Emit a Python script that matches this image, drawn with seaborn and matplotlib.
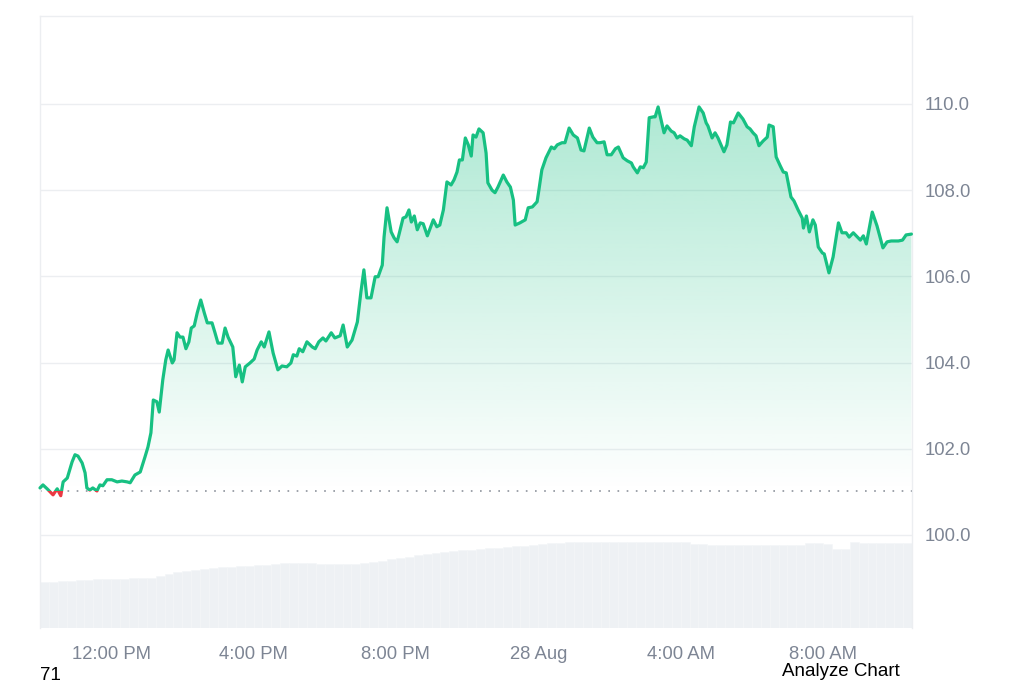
import numpy as np
import pandas as pd
import seaborn as sns
import matplotlib.pyplot as plt
from matplotlib.colors import to_rgb
from matplotlib.patches import Rectangle

# price, minutes after 10:00 AM (27 Aug)
minutes = [0, 5, 12, 22, 29, 35, 39, 46, 54, 59, 64, 71, 76, 79, 84, 89, 96, 101, 106, 113,
           121, 130, 138, 147, 152, 160, 169, 177, 182, 187, 191, 197, 201, 207, 212, 216, 223, 226, 231, 236,
           241, 246, 251, 255, 260, 265, 271, 277, 282, 290, 295, 300, 307, 312, 317, 325, 330, 336, 341, 346,
           354, 361, 366, 373, 378, 386, 393, 401, 408, 416, 423, 427, 433, 437, 443, 450, 459, 464, 470, 477,
           482, 491, 497, 506, 511, 518, 526, 535, 541, 546, 551, 558, 565, 570, 577, 580, 585, 592, 597, 602,
           605, 612, 617, 622, 626, 631, 636, 641, 646, 653, 663, 669, 674, 680, 686, 693, 698, 703, 707, 712,
           717, 722, 727, 730, 735, 740, 747, 752, 755, 762, 767, 772, 781, 787, 793, 798, 801, 809, 818, 823,
           830, 838, 841, 846, 853, 862, 867, 872, 880, 885, 892, 899, 906, 912, 917, 926, 932, 939, 944, 951,
           956, 963, 970, 975, 983, 990, 997, 1000, 1007, 1012, 1017, 1022, 1027, 1034, 1037, 1042, 1047, 1052, 1057, 1064,
           1069, 1074, 1079, 1086, 1091, 1098, 1103, 1111, 1118, 1123, 1126, 1133, 1138, 1143, 1153, 1158, 1164, 1169, 1177, 1185,
           1192, 1197, 1202, 1207, 1212, 1219, 1226, 1229, 1236, 1241, 1248, 1253, 1258, 1266, 1271, 1278, 1285, 1287, 1292, 1297,
           1303, 1307, 1312, 1319, 1322, 1330, 1337, 1346, 1352, 1359, 1364, 1371, 1378, 1383, 1388, 1393, 1403, 1411, 1416, 1421,
           1428, 1435, 1440, 1447, 1454, 1460, 1469]
price = [101.09, 101.16, 101.07, 100.93, 101.07, 100.91, 101.23, 101.32, 101.69, 101.86,
         101.83, 101.67, 101.44, 101.09, 101.04, 101.09, 101.02, 101.16, 101.14, 101.28,
         101.28, 101.23, 101.25, 101.23, 101.21, 101.39, 101.46, 101.81, 102.04, 102.37,
         103.13, 103.09, 102.85, 103.60, 104.06, 104.29, 103.99, 104.06, 104.69, 104.59,
         104.59, 104.32, 104.48, 104.80, 104.85, 105.15, 105.45, 105.15, 104.92, 104.92,
         104.69, 104.45, 104.45, 104.80, 104.59, 104.36, 103.67, 103.94, 103.55, 103.90,
         103.99, 104.08, 104.29, 104.48, 104.36, 104.71, 104.22, 103.83, 103.92, 103.90,
         103.99, 104.18, 104.15, 104.32, 104.25, 104.48, 104.36, 104.32, 104.48, 104.57,
         104.50, 104.69, 104.57, 104.62, 104.87, 104.36, 104.52, 104.94, 105.64, 106.15,
         105.50, 105.50, 105.99, 105.99, 106.26, 106.91, 107.59, 107.03, 106.89, 106.80,
         106.96, 107.35, 107.38, 107.54, 107.26, 107.40, 107.08, 107.24, 107.22, 106.94,
         107.31, 107.15, 107.19, 107.54, 108.19, 108.12, 108.24, 108.42, 108.70, 108.70,
         109.21, 109.05, 108.79, 109.28, 109.23, 109.42, 109.33, 108.86, 108.17, 108.00,
         107.94, 108.07, 108.35, 108.19, 108.07, 107.77, 107.19, 107.24, 107.31, 107.59,
         107.61, 107.73, 108.00, 108.47, 108.75, 109.00, 108.96, 109.05, 109.10, 109.10,
         109.44, 109.28, 109.21, 108.93, 108.91, 109.44, 109.23, 109.10, 109.10, 109.12,
         108.82, 108.82, 108.96, 109.00, 108.75, 108.68, 108.63, 108.54, 108.40, 108.54,
         108.52, 108.65, 109.68, 109.70, 109.70, 109.93, 109.63, 109.33, 109.49, 109.37,
         109.33, 109.21, 109.26, 109.19, 109.16, 109.03, 109.47, 109.93, 109.79, 109.56,
         109.49, 109.21, 109.33, 109.21, 108.89, 109.05, 109.58, 109.56, 109.79, 109.65,
         109.47, 109.42, 109.33, 109.26, 109.03, 109.14, 109.23, 109.51, 109.47, 108.77,
         108.56, 108.42, 108.40, 107.84, 107.75, 107.54, 107.35, 107.12, 107.40, 107.03,
         107.31, 107.19, 106.68, 106.54, 106.52, 106.08, 106.45, 107.24, 107.01, 107.01,
         106.91, 107.01, 106.91, 106.84, 106.94, 106.75, 107.49, 107.17, 106.91, 106.66,
         106.80, 106.82, 106.82, 106.82, 106.84, 106.96, 106.98]
open_price = 101.03

# volume, one bar every 15 minutes
vol_minutes = list(range(0, 1471, 15))
volume = [4.6, 4.6, 4.7, 4.7, 4.8, 4.8, 4.9, 4.9, 4.9, 4.9, 5.0, 5.0, 5.0,
          5.2, 5.4, 5.6, 5.7, 5.8, 5.9, 6.0, 6.1, 6.1, 6.2, 6.2, 6.3, 6.3, 6.4,
          6.5, 6.5, 6.5, 6.5, 6.4, 6.4, 6.4, 6.4, 6.4, 6.5, 6.6, 6.7, 6.9, 7.0,
          7.1, 7.3, 7.4, 7.5, 7.6, 7.7, 7.8, 7.8, 7.9, 8.0, 8.0, 8.1, 8.2, 8.2,
          8.3, 8.4, 8.5, 8.5, 8.6, 8.6, 8.6, 8.6, 8.6, 8.6, 8.6, 8.6, 8.6, 8.6,
          8.6, 8.6, 8.6, 8.6, 8.4, 8.4, 8.3, 8.3, 8.3, 8.3, 8.3, 8.3, 8.3, 8.3,
          8.3, 8.3, 8.3, 8.5, 8.5, 8.4, 7.9, 7.9, 8.6, 8.5, 8.5, 8.5, 8.5, 8.5,
          8.5, 8.5]

tick_minutes = [120, 360, 600, 840, 1080, 1320]
tick_labels = ['12:00 PM', '4:00 PM', '8:00 PM', '28 Aug', '4:00 AM', '8:00 AM']
price_ticks = [100, 102, 104, 106, 108, 110]

green = '#17c082'
red = '#ea3943'
grey = '#7d8594'
frame = '#eceef1'

sns.set_style('white')
plt.rcParams['font.family'] = ['Liberation Sans', 'DejaVu Sans']

df = pd.DataFrame({'minutes': minutes, 'price': price})

fig = plt.figure(figsize=(10.24, 6.83), dpi=100)
ax = fig.add_axes([40 / 1024, 1 - 628 / 683, 872 / 1024, 612 / 683])
ax_vol = ax.twinx()
ax.set_zorder(ax_vol.get_zorder() + 1)
ax.patch.set_visible(False)

# volume in the back, bars touching with faint seams
ax_vol.bar(vol_minutes, volume, width=15, align='edge', color='#eef1f4',
           edgecolor='#f4f6f8', linewidth=0.4)
ax_vol.set_ylim(0, 61.2)
ax_vol.set_yticks([])
for s in ax_vol.spines.values():
    s.set_visible(False)

# gradient under the line
fill = ax.fill_between(df['minutes'], df['price'], open_price, facecolor='none', edgecolor='none')
shade = np.zeros((256, 1, 4))
shade[..., :3] = to_rgb(green)
shade[..., 3] = np.linspace(0, 0.43, 256)[:, None]
im = ax.imshow(shade, extent=[0, 1470, open_price, 112.04], origin='lower', aspect='auto', zorder=1)
im.set_clip_path(fill.get_paths()[0], transform=ax.transData)

# line: green above open, red below
sns.lineplot(data=df, x='minutes', y='price', ax=ax, color=green, linewidth=2.3, zorder=3)
sns.lineplot(data=df, x='minutes', y='price', ax=ax, color=red, linewidth=2.3, zorder=3)
up_line, down_line = ax.lines[-2], ax.lines[-1]
up_line.set_clip_path(Rectangle((-50, open_price), 1600, 30, transform=ax.transData))
down_line.set_clip_path(Rectangle((-50, open_price - 30), 1600, 30, transform=ax.transData))

ax.axhline(open_price, color='#8d939c', lw=1.2, ls=(0, (1, 4.5)), zorder=2)

ax.set_xlim(0, 1470)
ax.set_ylim(97.84, 112.04)
ax.set_xticks(tick_minutes)
ax.set_xticklabels(tick_labels)
ax.yaxis.tick_right()
ax.set_yticks(price_ticks)
ax.set_yticklabels([f'{v:.1f}' for v in price_ticks])
ax.set_xlabel('')
ax.set_ylabel('')
ax.yaxis.grid(True, color=frame, lw=1)
ax.xaxis.grid(False)
ax.tick_params(axis='x', length=0, pad=13, labelsize=13.3, labelcolor=grey)
ax.tick_params(axis='y', length=0, pad=9, labelsize=13.3, labelcolor=grey)
for side in ['left', 'top', 'right']:
    ax.spines[side].set_color(frame)
    ax.spines[side].set_linewidth(1)
ax.spines['bottom'].set_visible(False)

fig.text(40 / 1024, 7 / 683, '71', fontsize=13.5, color='black', va='center')
fig.text(782 / 1024, 12 / 683, 'Analyze Chart', fontsize=13.5, color='black', va='center')

fig.savefig('out.png', dpi=100)
